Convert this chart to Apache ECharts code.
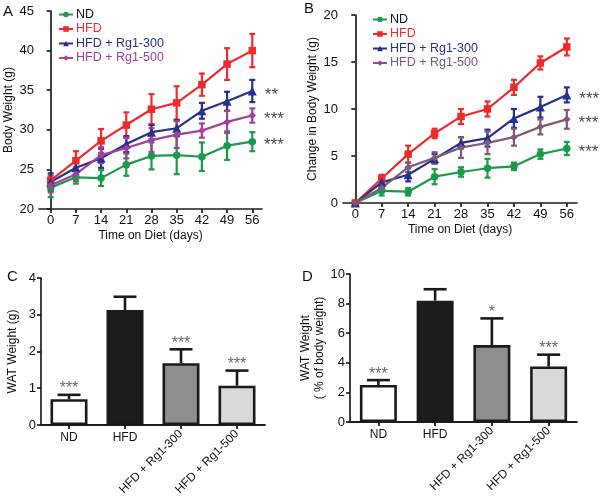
<!DOCTYPE html>
<html>
<head>
<meta charset="utf-8">
<script src="https://cdn.jsdelivr.net/npm/echarts@6/dist/echarts.min.js"></script>
<style>html,body{margin:0;padding:0;background:#fff}#c{width:600px;height:498px}</style>
</head>
<body>
<div id="c"></div>
<script>
// ---------- DATA ----------
const days = [0, 7, 14, 21, 28, 35, 42, 49, 56];
const groups = ['ND', 'HFD', 'HFD + Rg1-300', 'HFD + Rg1-500'];

// Panel A: body weight (g)
const bwND    = [22.7, 24.0, 23.9, 25.6, 26.7, 26.8, 26.6, 28.0, 28.5];
const bwHFD   = [23.6, 26.1, 28.6, 30.6, 32.6, 33.4, 35.7, 38.3, 40.0];
const bwR300  = [23.4, 25.2, 26.4, 28.2, 29.7, 30.2, 32.4, 33.6, 34.9];
const bwR500  = [23.0, 24.4, 26.8, 27.7, 28.7, 29.4, 29.9, 31.0, 31.8];
const bwErrND   = [1.2, 0.8, 1.0, 1.4, 1.7, 2.4, 1.8, 1.8, 1.2];
const bwErrHFD  = [0.6, 1.2, 1.5, 1.6, 1.9, 2.1, 1.4, 2.0, 2.1];
const bwErrR300 = [1.1, 0.9, 1.2, 1.0, 0.9, 1.0, 1.0, 1.2, 1.4];
const bwErrR500 = [0.9, 0.9, 1.0, 1.3, 1.5, 1.7, 0.9, 1.4, 0.9];
const bwStars = ['***', '', '**', '***'];

// Panel B: change in body weight (g)
const chND    = [0, 1.3, 1.2, 2.8, 3.3, 3.7, 3.9, 5.2, 5.8];
const chHFD   = [0, 2.6, 5.2, 7.4, 9.2, 10.0, 12.3, 14.9, 16.6];
const chR300  = [0, 2.2, 3.0, 4.7, 6.4, 6.9, 9.0, 10.2, 11.5];
const chR500  = [0, 1.6, 3.8, 4.8, 5.9, 6.4, 7.0, 8.1, 8.9];
const chErrND   = [0, 0.5, 0.4, 0.8, 0.5, 1.0, 0.4, 0.5, 0.7];
const chErrHFD  = [0, 0.4, 0.9, 0.5, 0.8, 0.8, 0.8, 0.7, 0.9];
const chErrR300 = [0, 0.6, 0.7, 0.5, 0.6, 0.9, 1.0, 1.1, 0.8];
const chErrR500 = [0, 0.4, 0.5, 0.6, 1.1, 1.2, 0.9, 0.8, 1.0];
const chStars = ['***', '', '***', '***'];

// Panel C: WAT weight (g)
const watG    = [0.70, 3.13, 1.68, 1.07];
const watGErr = [0.12, 0.36, 0.38, 0.41];
const watGStars = ['***', '', '***', '***'];

// Panel D: WAT weight (% of body weight)
const watP    = [2.5, 8.2, 5.2, 3.75];
const watPErr = [0.33, 0.77, 1.8, 0.8];
const watPStars = ['***', '', '*', '***'];

// ---------- STYLE ----------
const FONT = "'Liberation Sans', Arial, sans-serif";
const AX = '#1e1e1e';
const colA = ['#1b9a4b', '#ee2b2b', '#25308a', '#a2409c'];
const colB = ['#1b9a4b', '#ee2b2b', '#25308a', '#7e5a78'];
const symbols = ['circle', 'rect', 'triangle', 'diamond'];
const barFill = ['#ffffff', '#1c1c1c', '#8e8e8e', '#d9d9d9'];

const chart = echarts.init(document.getElementById('c'), null, {renderer: 'canvas'});

function valueX(gridIndex) {
  return {
    type: 'value', gridIndex: gridIndex, min: -3.25, max: 58.7, position: 'bottom',
    name: 'Time on Diet (days)', nameLocation: 'middle', nameGap: 21,
    nameTextStyle: {fontFamily: FONT, fontSize: 12, color: '#111'},
    axisLine: {show: true, lineStyle: {color: AX, width: 1.7}},
    axisTick: {show: true, length: 4, customValues: days, lineStyle: {color: AX, width: 1.7}},
    axisLabel: {customValues: days, fontFamily: FONT, fontSize: 13, color: '#111', margin: 5},
    splitLine: {show: false}
  };
}
function valueY(gridIndex, min, max, interval, name, gap) {
  return {
    type: 'value', gridIndex: gridIndex, min: min, max: max, interval: interval,
    name: name, nameLocation: 'middle', nameGap: gap,
    nameTextStyle: {fontFamily: FONT, fontSize: 12, color: '#111', lineHeight: 14},
    axisLine: {show: true, lineStyle: {color: AX, width: 1.7}},
    axisTick: {show: true, length: 4, lineStyle: {color: AX, width: 1.7}},
    axisLabel: {fontFamily: FONT, fontSize: 13, color: '#111', margin: 5},
    splitLine: {show: false}
  };
}
function catX(gridIndex, rotated) {
  return {
    type: 'category', gridIndex: gridIndex, data: groups, position: 'bottom', offset: 0,
    axisLine: {show: !rotated, onZero: false, lineStyle: {color: AX, width: 1.8}},
    axisTick: {show: !rotated, length: 4, alignWithLabel: true, lineStyle: {color: AX, width: 1.8}},
    axisLabel: {
      interval: 0, rotate: rotated ? 45 : 0, fontFamily: FONT, fontSize: 12, color: '#111', margin: 7,
      formatter: function (v, i) { return rotated ? (i >= 2 ? v : '') : (i < 2 ? v : ''); }
    },
    splitLine: {show: false}
  };
}

function lineSeries(name, xi, yi, means, color, sym, star) {
  return {
    type: 'line', name: name, xAxisIndex: xi, yAxisIndex: yi,
    data: days.map((d, i) => [d, means[i]]),
    symbol: sym, symbolSize: sym === 'triangle' ? 9 : 7.5,
    lineStyle: {color: color, width: 2.2}, itemStyle: {color: color},
    z: 3,
    label: {
      show: true, position: 'right', distance: 8, offset: [0, 4], fontFamily: FONT, fontSize: 17, color: '#4a4a4a',
      formatter: p => (p.dataIndex === days.length - 1 ? star : '')
    }
  };
}
function errSeries(xi, yi, means, errs, color, capW) {
  return {
    type: 'custom', xAxisIndex: xi, yAxisIndex: yi, silent: true, z: 2,
    data: days.map((d, i) => [d, means[i], errs[i]]),
    renderItem: function (params, api) {
      const x = api.value(0), m = api.value(1), e = api.value(2);
      if (!e) return null;
      const t = api.coord([x, m + e]), b = api.coord([x, m - e]);
      const st = {stroke: color, lineWidth: 2.2};
      return {type: 'group', children: [
        {type: 'line', shape: {x1: t[0], y1: t[1], x2: b[0], y2: b[1]}, style: st},
        {type: 'line', shape: {x1: t[0] - capW / 2, y1: t[1], x2: t[0] + capW / 2, y2: t[1]}, style: st},
        {type: 'line', shape: {x1: b[0] - capW / 2, y1: b[1], x2: b[0] + capW / 2, y2: b[1]}, style: st}
      ]};
    }
  };
}
function barSeries(xi, yi, means) {
  return {
    type: 'bar', xAxisIndex: xi, yAxisIndex: yi, barWidth: 37,
    data: means.map((v, i) => ({value: v, itemStyle: {color: barFill[i]}})),
    itemStyle: {borderColor: '#1a1a1a', borderWidth: 2.6}, z: 2
  };
}
function barErr(xi, yi, means, errs, stars) {
  return {
    type: 'custom', xAxisIndex: xi, yAxisIndex: yi, silent: true, z: 3,
    data: means.map((v, i) => [i, v, errs[i]]),
    renderItem: function (params, api) {
      const i = api.value(0), m = api.value(1), e = api.value(2);
      const t = api.coord([i, m + e]), b = api.coord([i, m]);
      const st = {stroke: '#1a1a1a', lineWidth: 2.6};
      const kids = [
        {type: 'line', shape: {x1: t[0], y1: t[1], x2: b[0], y2: b[1]}, style: st},
        {type: 'line', shape: {x1: t[0] - 11.5, y1: t[1], x2: t[0] + 11.5, y2: t[1]}, style: st}
      ];
      if (stars[i]) kids.push({type: 'text', style: {text: stars[i], x: t[0], y: t[1] + 2, textAlign: 'center', textVerticalAlign: 'bottom', fontFamily: FONT, fontSize: 16, fill: '#666'}});
      return {type: 'group', children: kids};
    }
  };
}

function legend(left, top, cols) {
  return {
    left: left, top: top, orient: 'vertical', itemGap: 1.5, itemWidth: 14, itemHeight: 7, padding: 0,
    selectedMode: false,
    textStyle: {fontFamily: FONT, fontSize: 12.5, padding: [0, 0, 0, -2]},
    data: groups.map((g, i) => ({name: g, textStyle: {color: i === 0 ? '#111' : cols[i]}}))
  };
}

const series = [];
const aM = [bwND, bwHFD, bwR300, bwR500], aE = [bwErrND, bwErrHFD, bwErrR300, bwErrR500];
const bM = [chND, chHFD, chR300, chR500], bE = [chErrND, chErrHFD, chErrR300, chErrR500];
for (let k = 0; k < 4; k++) {
  series.push(errSeries(0, 0, aM[k], aE[k], colA[k], 6));
  series.push(lineSeries(groups[k], 0, 0, aM[k], colA[k], symbols[k], bwStars[k]));
}
for (let k = 0; k < 4; k++) {
  series.push(errSeries(1, 1, bM[k], bE[k], colB[k], 6));
  series.push(lineSeries(groups[k], 1, 1, bM[k], colB[k], symbols[k], chStars[k]));
}
series.push(barSeries(2, 2, watG));
series.push(barErr(2, 2, watG, watGErr, watGStars));
series.push(barSeries(4, 3, watP));
series.push(barErr(4, 3, watP, watPErr, watPStars));

const letter = (t, l, tp) => ({text: t, left: l, top: tp, padding: 0, textStyle: {fontFamily: FONT, fontSize: 15, fontWeight: 'normal', color: '#111'}});

chart.setOption({
  animation: false,
  backgroundColor: '#fff',
  title: [letter('A', 3, 4), letter('B', 304, 1), letter('C', 7, 269), letter('D', 302, 269)],
  legend: [legend(58, 8, colA), legend(372, 13, colB)],
  grid: [
    {left: 39, top: 11, width: 223, height: 198},
    {left: 343, top: 15, width: 234, height: 188},
    {left: 41, top: 278, width: 224, height: 148},
    {left: 350, top: 274, width: 227, height: 148}
  ],
  xAxis: [
    valueX(0), valueX(1),
    catX(2, false), catX(2, true),
    catX(3, false), catX(3, true)
  ],
  yAxis: [
    valueY(0, 20, 45, 5, 'Body Weight (g)', 23),
    valueY(1, 0, 20, 5, 'Change in Body Weight (g)', 23),
    valueY(2, 0, 4, 1, 'WAT Weight (g)', 21),
    valueY(3, 0, 10, 2, 'WAT Weight\n( % of body weight)', 16)
  ],
  series: series
});
</script>
</body>
</html>
